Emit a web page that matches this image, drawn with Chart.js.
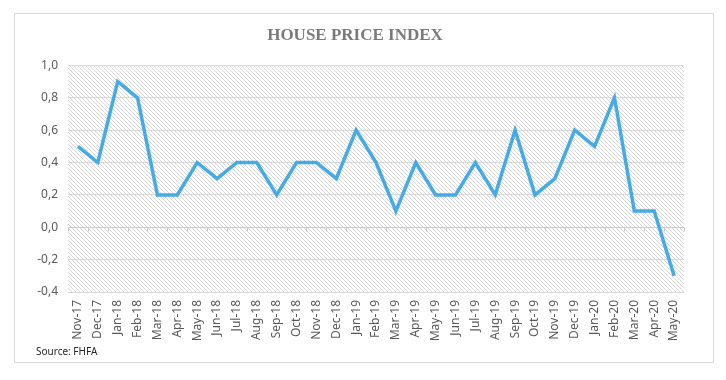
<!DOCTYPE html>
<html><head><meta charset="utf-8">
<script src="https://cdn.jsdelivr.net/npm/chart.js@4/dist/chart.umd.min.js"></script>
<style>html,body{margin:0;padding:0;background:#fff;}#wrap{position:absolute;left:0;top:0;width:726px;height:380px;}</style>
</head><body><div id="wrap"><canvas id="c" width="726" height="380"></canvas></div>
<script>
const categories = ["Nov-17","Dec-17","Jan-18","Feb-18","Mar-18","Apr-18","May-18","Jun-18","Jul-18","Aug-18","Sep-18","Oct-18","Nov-18","Dec-18","Jan-19","Feb-19","Mar-19","Apr-19","May-19","Jun-19","Jul-19","Aug-19","Sep-19","Oct-19","Nov-19","Dec-19","Jan-20","Feb-20","Mar-20","Apr-20","May-20"];
const hpiValues = [0.5,0.4,0.9,0.8,0.2,0.2,0.4,0.3,0.4,0.4,0.2,0.4,0.4,0.3,0.6,0.4,0.1,0.4,0.2,0.2,0.4,0.2,0.6,0.2,0.3,0.6,0.5,0.8,0.1,0.1,-0.3];
const yTicks = [-0.4,-0.2,0.0,0.2,0.4,0.6,0.8,1.0];
const titleText = "HOUSE PRICE INDEX";
const sourceText = "Source: FHFA";

function makeHatch(){
  const p = document.createElement('canvas'); p.width = 4; p.height = 4;
  const g = p.getContext('2d');
  g.strokeStyle = '#d2d2d2'; g.lineWidth = 0.9;
  g.beginPath(); g.moveTo(-1,-1); g.lineTo(5,5); g.moveTo(-1,3); g.lineTo(1,5); g.moveTo(3,-1); g.lineTo(5,1); g.stroke();
  return p;
}
const hatchCanvas = makeHatch();

const decor = {
  id: 'decor',
  beforeDraw(chart){
    const ctx = chart.ctx, a = chart.chartArea;
    ctx.save();
    ctx.fillStyle = '#fff'; ctx.fillRect(0,0,chart.width,chart.height);
    ctx.strokeStyle = '#d9d9d9'; ctx.lineWidth = 1;
    ctx.strokeRect(14.5,13.5,699,349);
    ctx.fillStyle = ctx.createPattern(hatchCanvas,'repeat');
    ctx.fillRect(a.left,a.top,a.right-a.left,a.bottom-a.top);
    ctx.fillStyle = '#262626';
    ctx.font = '10px "Noto Sans", sans-serif';
    ctx.textBaseline = 'middle';
    ctx.fillText(sourceText, 36, 352);
    ctx.restore();
  },
  beforeDatasetsDraw(chart){
    const ctx = chart.ctx, a = chart.chartArea, y = chart.scales.y.getPixelForValue(0);
    ctx.save();
    ctx.strokeStyle = '#c8c8c8'; ctx.lineWidth = 1;
    ctx.beginPath();
    ctx.moveTo(a.left, Math.round(y)+0.5); ctx.lineTo(a.right, Math.round(y)+0.5);
    const n = categories.length, w = (a.right-a.left)/n;
    for(let i=0;i<=n;i++){ const xx = Math.round(a.left + i*w)+0.5; ctx.moveTo(xx, Math.round(y)+0.5); ctx.lineTo(xx, Math.round(y)+4.5); }
    ctx.stroke();
    ctx.restore();
  }
};

new Chart(document.getElementById('c'), {
  type: 'line',
  data: { labels: categories, datasets: [{ data: hpiValues, borderColor: '#45abe6', borderWidth: 3.5, pointRadius: 0, tension: 0, fill: false }] },
  options: {
    responsive: false, animation: false, devicePixelRatio: 1,
    layout: { padding: { left: 26, right: 42, top: 12, bottom: 38 } },
    plugins: {
      legend: { display: false }, tooltip: { enabled: false },
      title: { display: true, text: titleText, color: '#7a7a7a', font: { family: '"Liberation Serif", serif', size: 17, weight: 'bold' }, padding: { top: 13, bottom: 20 } }
    },
    scales: {
      x: { offset: true, grid: { display: false, drawTicks: false }, border: { display: false },
           ticks: { minRotation: 90, maxRotation: 90, autoSkip: false, color: '#595959', padding: 8, font: { family: '"Noto Sans", sans-serif', size: 12 } },
           afterFit(s){ s.height = 50; } },
      y: { min: -0.4, max: 1.0, border: { display: false },
           grid: { color: '#d9d9d9', drawTicks: false },
           afterBuildTicks(s){ s.ticks = yTicks.map(v => ({ value: v })); },
           ticks: { color: '#595959', padding: 10, font: { family: '"Noto Sans", sans-serif', size: 12 }, callback: v => Number(v).toFixed(1).replace('.', ',') },
           afterFit(s){ s.width = 42; } }
    }
  },
  plugins: [decor]
});
</script></body></html>
